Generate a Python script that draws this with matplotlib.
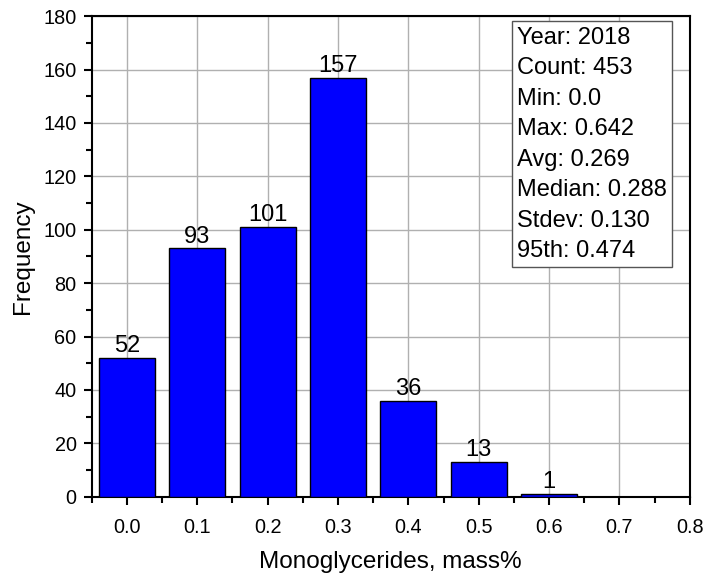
import matplotlib.pyplot as plt
from matplotlib.ticker import MultipleLocator

plt.rcParams['font.family'] = ['Liberation Sans', 'DejaVu Sans']

# data
bins = [0.0, 0.1, 0.2, 0.3, 0.4, 0.5, 0.6]
counts = [52, 93, 101, 157, 36, 13, 1]
stats_lines = ["Year: 2018", "Count: 453", "Min: 0.0", "Max: 0.642",
               "Avg: 0.269", "Median: 0.288", "Stdev: 0.130", "95th: 0.474"]

fig = plt.figure(figsize=(7.06, 5.75), dpi=100)
ax = fig.add_axes([0.130, 0.136, 0.847, 0.836])

ax.bar(bins, counts, width=0.08, color="#0000ff", edgecolor="black",
       linewidth=1.0, zorder=3)
for x, c in zip(bins, counts):
    ax.text(x, c + 0.3, str(c), ha="center", va="bottom", fontsize=17, zorder=4)

ax.set_xlim(-0.05, 0.8)
ax.set_ylim(0, 180)
ax.set_xticks([0.0, 0.1, 0.2, 0.3, 0.4, 0.5, 0.6, 0.7, 0.8])
ax.set_xticklabels(["0.0", "0.1", "0.2", "0.3", "0.4", "0.5", "0.6", "0.7", "0.8"])
ax.xaxis.set_minor_locator(MultipleLocator(0.05))
ax.yaxis.set_major_locator(MultipleLocator(20))
ax.yaxis.set_minor_locator(MultipleLocator(10))
ax.tick_params(which="major", direction="out", length=6, width=1.5, labelsize=14.3, pad=5)
ax.tick_params(which="minor", direction="out", length=4, width=1.5)
ax.tick_params(axis="x", which="major", pad=9)
ax.grid(True, which="major", color="#b0b0b0", lw=1.0, zorder=0)
for s in ax.spines.values():
    s.set_linewidth(1.5)

ax.set_xlabel("Monoglycerides, mass%", fontsize=17.5, labelpad=10)
ax.set_ylabel("Frequency", fontsize=17.5, labelpad=7)

ax.text(0.711, 0.978, "\n".join(stats_lines), transform=ax.transAxes,
        ha="left", va="top", fontsize=17, linespacing=1.5, zorder=5,
        bbox=dict(boxstyle="square,pad=0.22", facecolor="white", edgecolor="#555555", lw=1.0))

fig.savefig("out.png", dpi=100)
